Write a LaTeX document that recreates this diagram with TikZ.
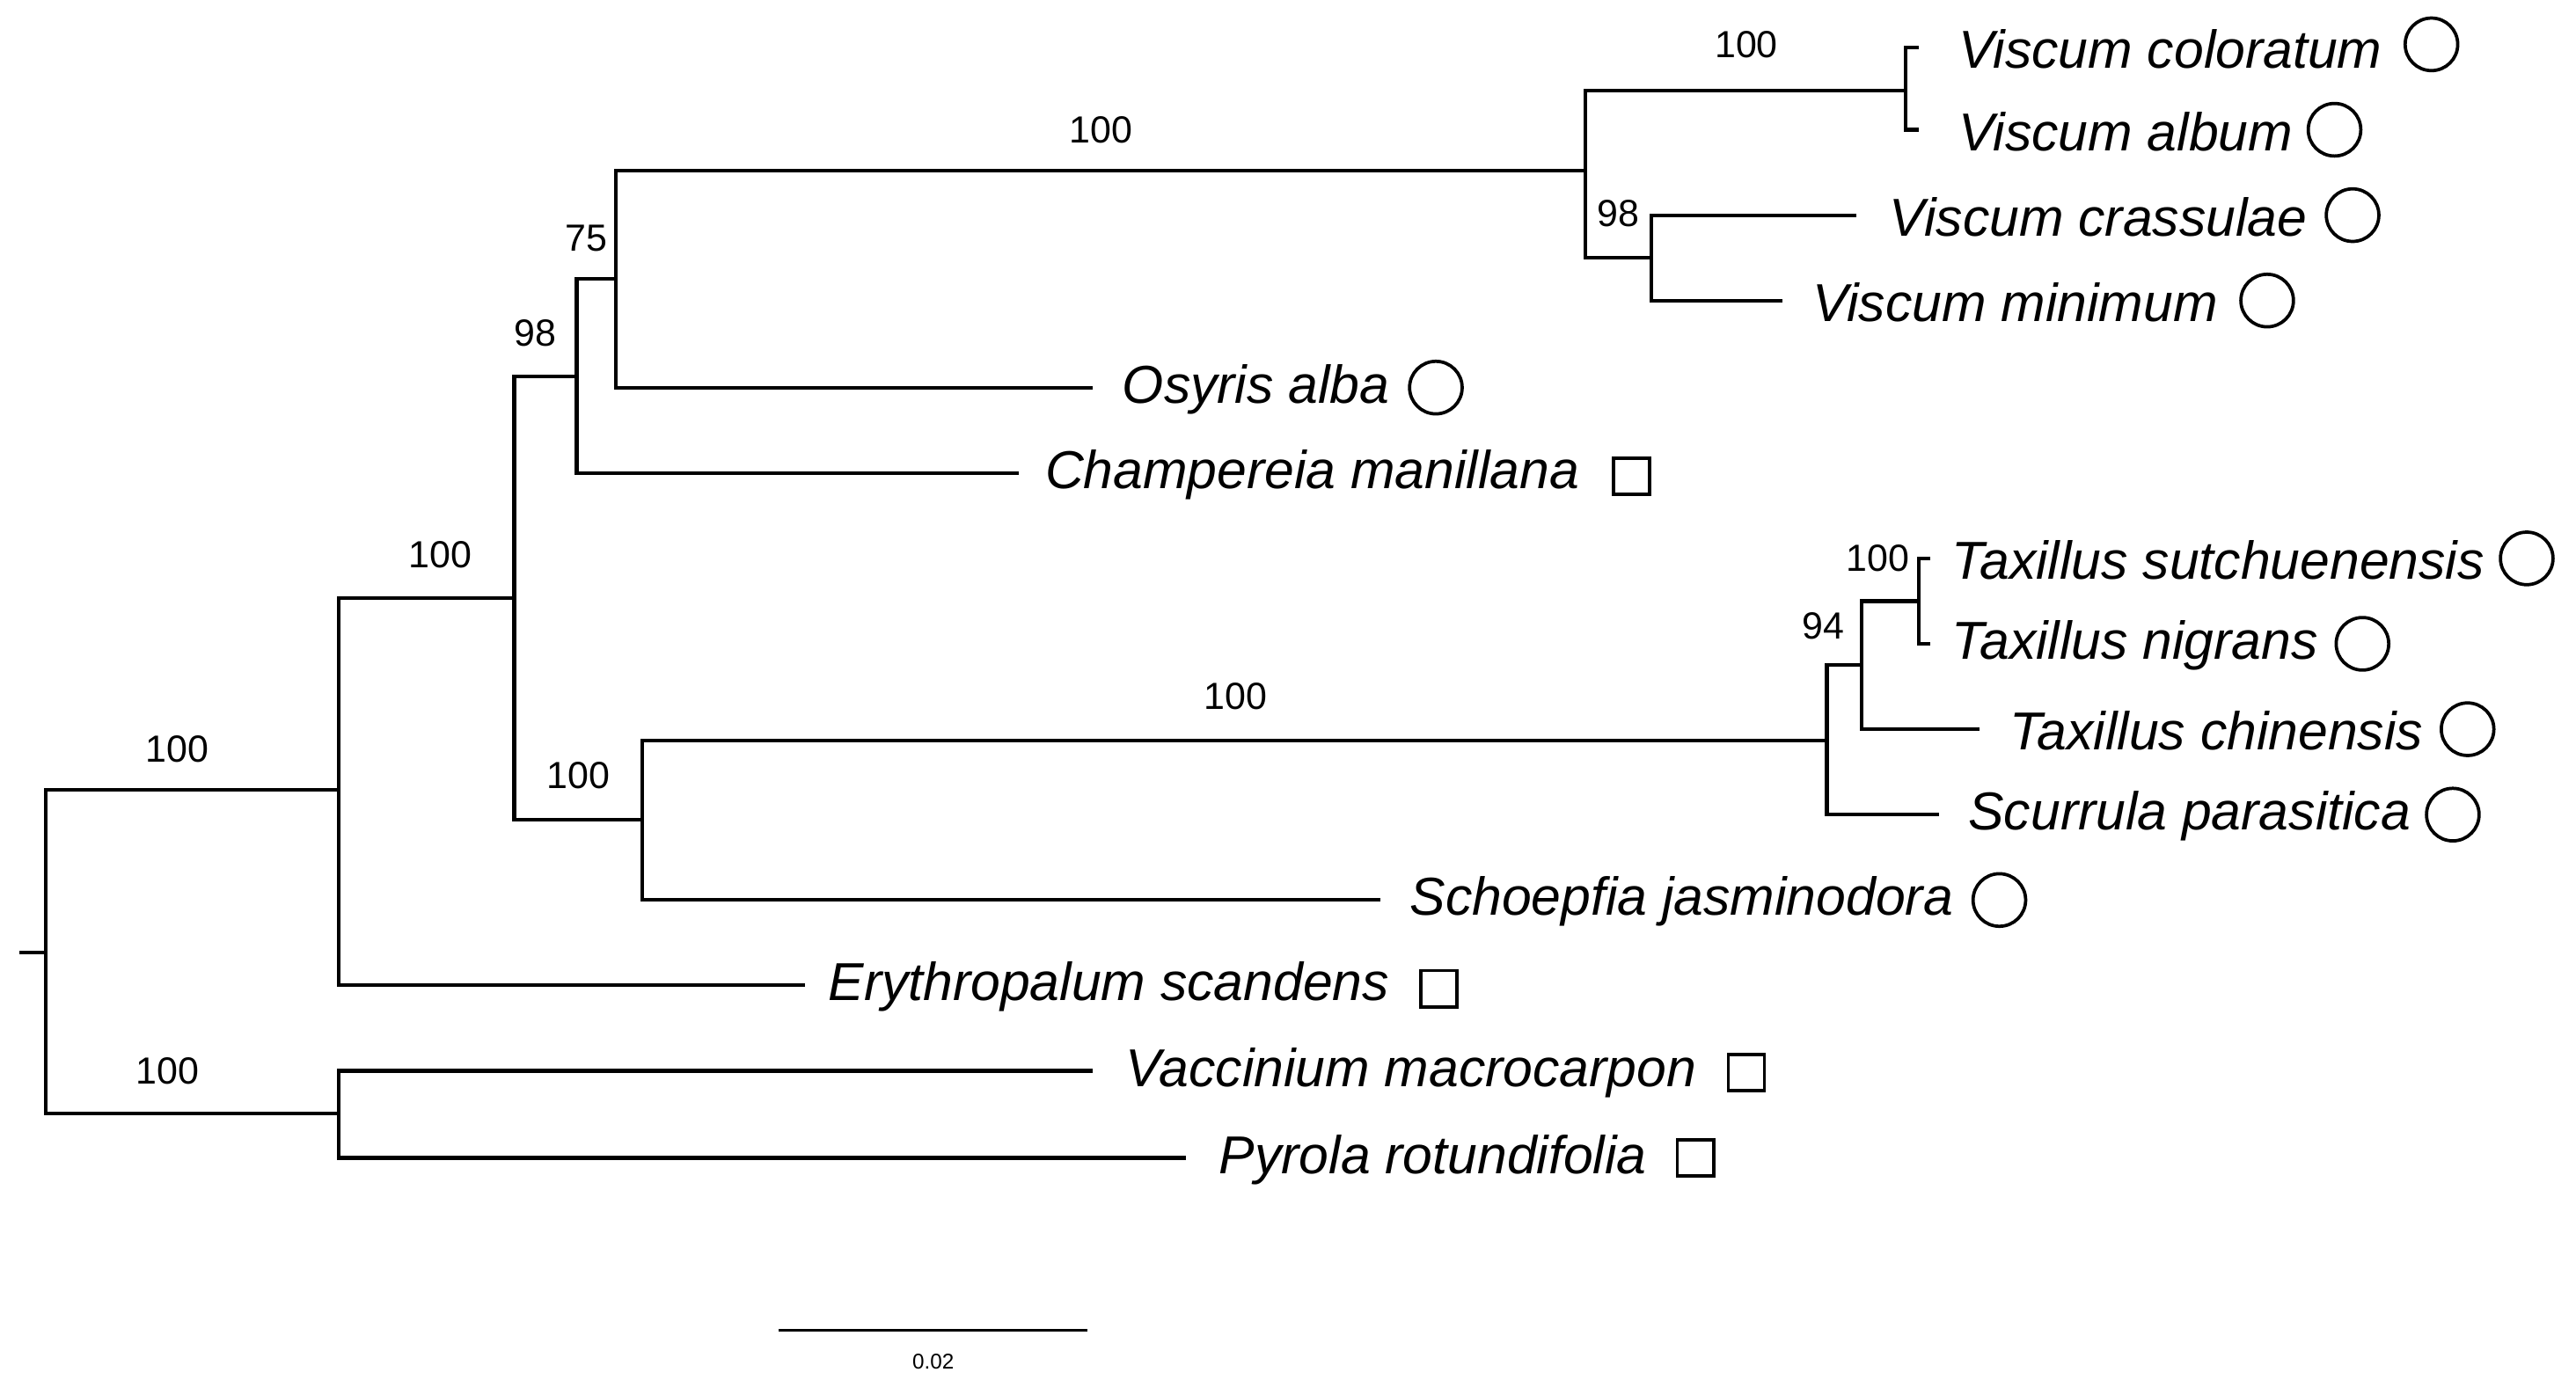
\documentclass[tikz,border=0pt]{standalone}
\usepackage{fontspec}
\setmainfont{Liberation Sans}
\begin{document}
\begin{tikzpicture}[x=1pt,y=-1pt,
  br/.style={line width=2.2pt},
  lf/.style={anchor=west,inner sep=0pt,font=\fontsize{32.5}{32.5}\selectfont\itshape},
  bs/.style={font=\fontsize{23}{23}\selectfont,inner sep=0pt},
  circ/.style={circle,draw,line width=2pt,minimum size=32pt,inner sep=0pt},
  sq/.style={rectangle,draw,line width=2pt,minimum size=22pt,inner sep=0pt}]
\useasboundingbox (0,0) rectangle (1568,844.5);
% internal nodes
\coordinate (R) at (28,580);
\coordinate (S) at (12,580);
\coordinate (A) at (206,481);
\coordinate (L) at (206,678);
\coordinate (B) at (313,364);
\coordinate (C) at (351,229);
\coordinate (D) at (391,499);
\coordinate (E) at (375,170);
\coordinate (F) at (965,104);
\coordinate (G) at (1160,55);
\coordinate (H) at (1005,157);
\coordinate (I) at (1112,451);
\coordinate (J) at (1133,405);
\coordinate (K) at (1168,366);
% leaves
\coordinate (t1) at (1168,29);
\coordinate (t2) at (1168,79);
\coordinate (t3) at (1130,131);
\coordinate (t4) at (1085,183);
\coordinate (t5) at (665,236);
\coordinate (t6) at (620,288);
\coordinate (t7) at (1175,340);
\coordinate (t8) at (1175,392);
\coordinate (t9) at (1205,444);
\coordinate (t10) at (1180,496);
\coordinate (t11) at (840,548);
\coordinate (t12) at (490,600);
\coordinate (t13) at (665,652);
\coordinate (t14) at (722,705);
% branches
\draw[br] (S) -- (R);
\draw[br] (A) -| (R) |- (L);
\draw[br] (B) -| (A) |- (t12);
\draw[br] (C) -| (B) |- (D);
\draw[br] (E) -| (C) |- (t6);
\draw[br] (F) -| (E) |- (t5);
\draw[br] (G) -| (F) |- (H);
\draw[br] (t1) -| (G) |- (t2);
\draw[br] (t3) -| (H) |- (t4);
\draw[br] (I) -| (D) |- (t11);
\draw[br] (J) -| (I) |- (t10);
\draw[br] (K) -| (J) |- (t9);
\draw[br] (t7) -| (K) |- (t8);
\draw[br] (t13) -| (L) |- (t14);
% support values
\node[bs] at (108,456) {100};
\node[bs] at (268,338) {100};
\node[bs] at (326,203) {98};
\node[bs] at (357,145) {75};
\node[bs] at (352,472) {100};
\node[bs] at (670,79) {100};
\node[bs] at (1063,27) {100};
\node[bs] at (985,130) {98};
\node[bs] at (752,424) {100};
\node[bs] at (1110,381) {94};
\node[bs] at (1143,340) {100};
\node[bs] at (102,652) {100};
% leaf labels
\node[lf] (n1) at ([xshift=24,yshift=-1]t1) {Viscum coloratum};
\node[lf] (n2) at ([xshift=24,yshift=-1]t2) {Viscum album};
\node[lf] (n3) at ([xshift=20,yshift=-1]t3) {Viscum crassulae};
\node[lf] (n4) at ([xshift=18,yshift=-1]t4) {Viscum minimum};
\node[lf] (n5) at ([xshift=18,yshift=-1]t5) {Osyris alba};
\node[lf] (n6) at ([xshift=16,yshift=-1]t6) {Champereia manillana};
\node[lf] (n7) at ([xshift=13,yshift=-1]t7) {Taxillus sutchuenensis};
\node[lf] (n8) at ([xshift=13,yshift=-1]t8) {Taxillus nigrans};
\node[lf] (n9) at ([xshift=18,yshift=-1]t9) {Taxillus chinensis};
\node[lf] (n10) at ([xshift=18,yshift=-1]t10) {Scurrula parasitica};
\node[lf] (n11) at ([xshift=18,yshift=-1]t11) {Schoepfia jasminodora};
\node[lf] (n12) at ([xshift=14,yshift=-1]t12) {Erythropalum scandens};
\node[lf] (n13) at ([xshift=20,yshift=-1]t13) {Vaccinium macrocarpon};
\node[lf] (n14) at ([xshift=20,yshift=-1]t14) {Pyrola rotundifolia};
% markers
\node[circ] (m1) at (1480,27) {};
\node[circ] (m2) at (1421,79) {};
\node[circ] (m3) at (1432,131) {};
\node[circ] (m4) at (1380,183) {};
\node[circ] (m5) at (874,236) {};
\node[sq] (m6) at (993,290) {};
\node[circ] (m7) at (1538,340) {};
\node[circ] (m8) at (1438,392) {};
\node[circ] (m9) at (1502,444) {};
\node[circ] (m10) at (1493,496) {};
\node[circ] (m11) at (1217,548) {};
\node[sq] (m12) at (876,602) {};
\node[sq] (m13) at (1063,653) {};
\node[sq] (m14) at (1032,705) {};
% scale bar
\coordinate (sb1) at (474,810);
\coordinate (sb2) at (662,810);
\draw[line width=1.2pt] (sb1) -- (sb2);
\node[font=\fontsize{13}{13}\selectfont,inner sep=0pt] at (568,829) {0.02};
\end{tikzpicture}
\end{document}
